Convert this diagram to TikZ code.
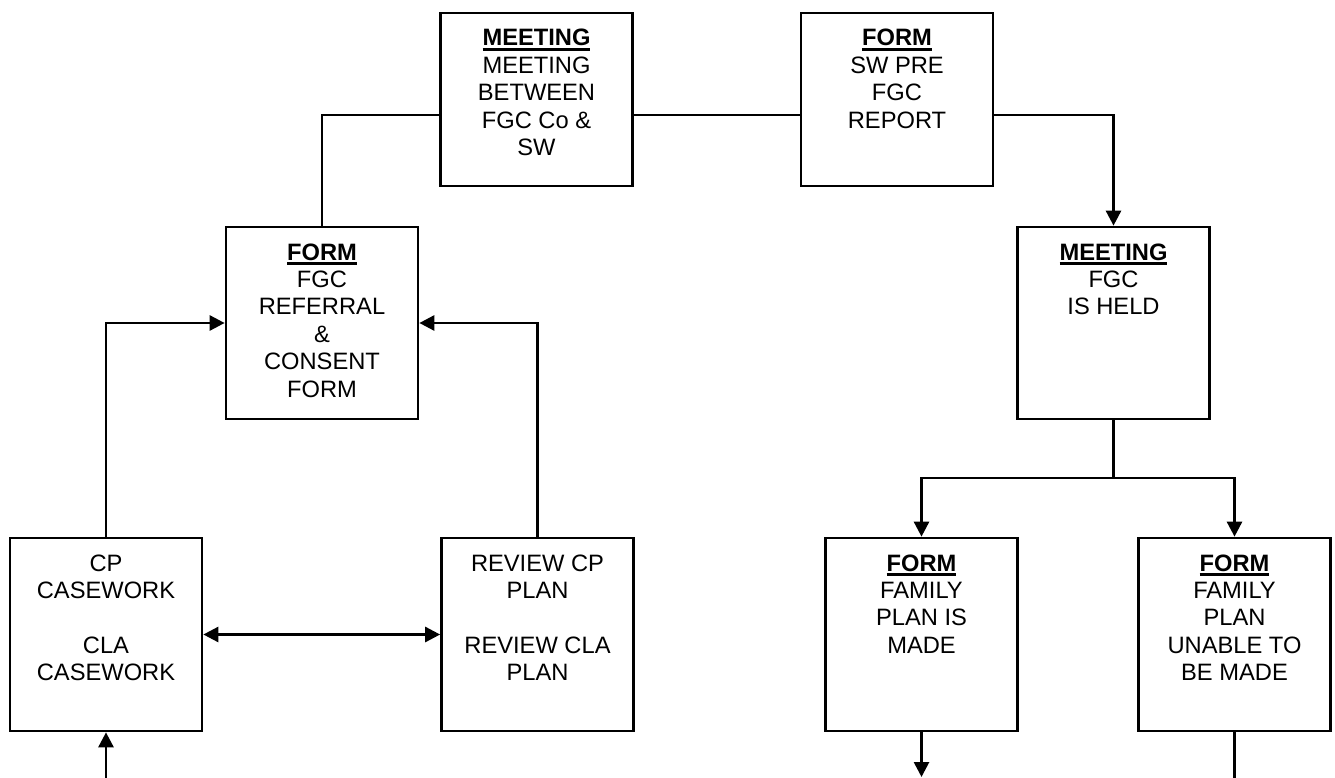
\documentclass[tikz,border=0pt]{standalone}
\usepackage{fontspec}
\setmainfont{Liberation Sans}
\usetikzlibrary{arrows.meta}
\newcommand\hdul[1]{\setbox0\hbox{\textbf{#1}}\rlap{\rule[-4.8pt]{\wd0}{2.6pt}}\box0}
\newcommand\bxt[2]{\parbox[c][#1][t]{190pt}{\centering\fontsize{23.7pt}{27.4pt}\selectfont\rule{0pt}{33pt}#2\par}}
\tikzset{
  box/.style={draw, line width=2.7pt, inner sep=0pt, outer sep=1.35pt, minimum width=192pt},
  conn/.style={line width=2.7pt},
  arr/.style={conn, -{Triangle[length=15pt,width=15pt]}},
  dblarr/.style={conn, {Triangle[length=15pt,width=15pt]}-{Triangle[length=15pt,width=15pt]}},
}
\begin{document}
\begin{tikzpicture}[x=1pt,y=-1pt]
\path[fill=white, use as bounding box] (0,0) rectangle (1335,778);

\node[box] (meet1) at (536.5,99.5) {\bxt{173pt}{\hdul{MEETING}\\MEETING\\BETWEEN\\FGC Co \&\\SW}};
\node[box] (form1) at (897,99.5) {\bxt{173pt}{\hdul{FORM}\\SW PRE\\FGC\\REPORT}};
\node[box] (form2) at (322,323) {\bxt{192pt}{\hdul{FORM}\\FGC\\REFERRAL\\\&\\CONSENT\\FORM}};
\node[box] (meet2) at (1113.5,323) {\bxt{192pt}{\hdul{MEETING}\\FGC\\IS HELD}};
\node[box] (cp) at (106,634.5) {\bxt{193pt}{CP\\CASEWORK\\[27.4pt]CLA\\CASEWORK}};
\node[box] (rev) at (537.5,634.5) {\bxt{193pt}{REVIEW CP\\PLAN\\[27.4pt]REVIEW CLA\\PLAN}};
\node[box] (fam1) at (921.5,634.5) {\bxt{193pt}{\hdul{FORM}\\FAMILY\\PLAN IS\\MADE}};
\node[box] (fam2) at (1234.5,634.5) {\bxt{193pt}{\hdul{FORM}\\FAMILY\\PLAN\\UNABLE TO\\BE MADE}};

\coordinate (hline) at (0,115);
\coordinate (split) at (1113.5,478);
\coordinate (inlet) at (106,778);
\coordinate (out1) at (921.5,777);
\coordinate (out2) at (1234.5,778);

\draw[conn] (form2.north) |- (meet1.west |- hline);
\draw[conn] (meet1.east |- hline) -- (form1.west |- hline);
\draw[arr] (form1.east |- hline) -| (meet2.north);
\draw[conn] (meet2.south) -- (split);
\draw[arr] (split) -| (fam1.north);
\draw[arr] (split) -| (fam2.north);
\draw[arr] (cp.north) |- (form2.west);
\draw[arr] (rev.north) |- (form2.east);
\draw[dblarr] (cp.east) -- (rev.west);
\draw[arr] (inlet) -- (cp.south);
\draw[arr] (fam1.south) -- (out1);
\draw[conn] (fam2.south) -- (out2);
\end{tikzpicture}
\end{document}
